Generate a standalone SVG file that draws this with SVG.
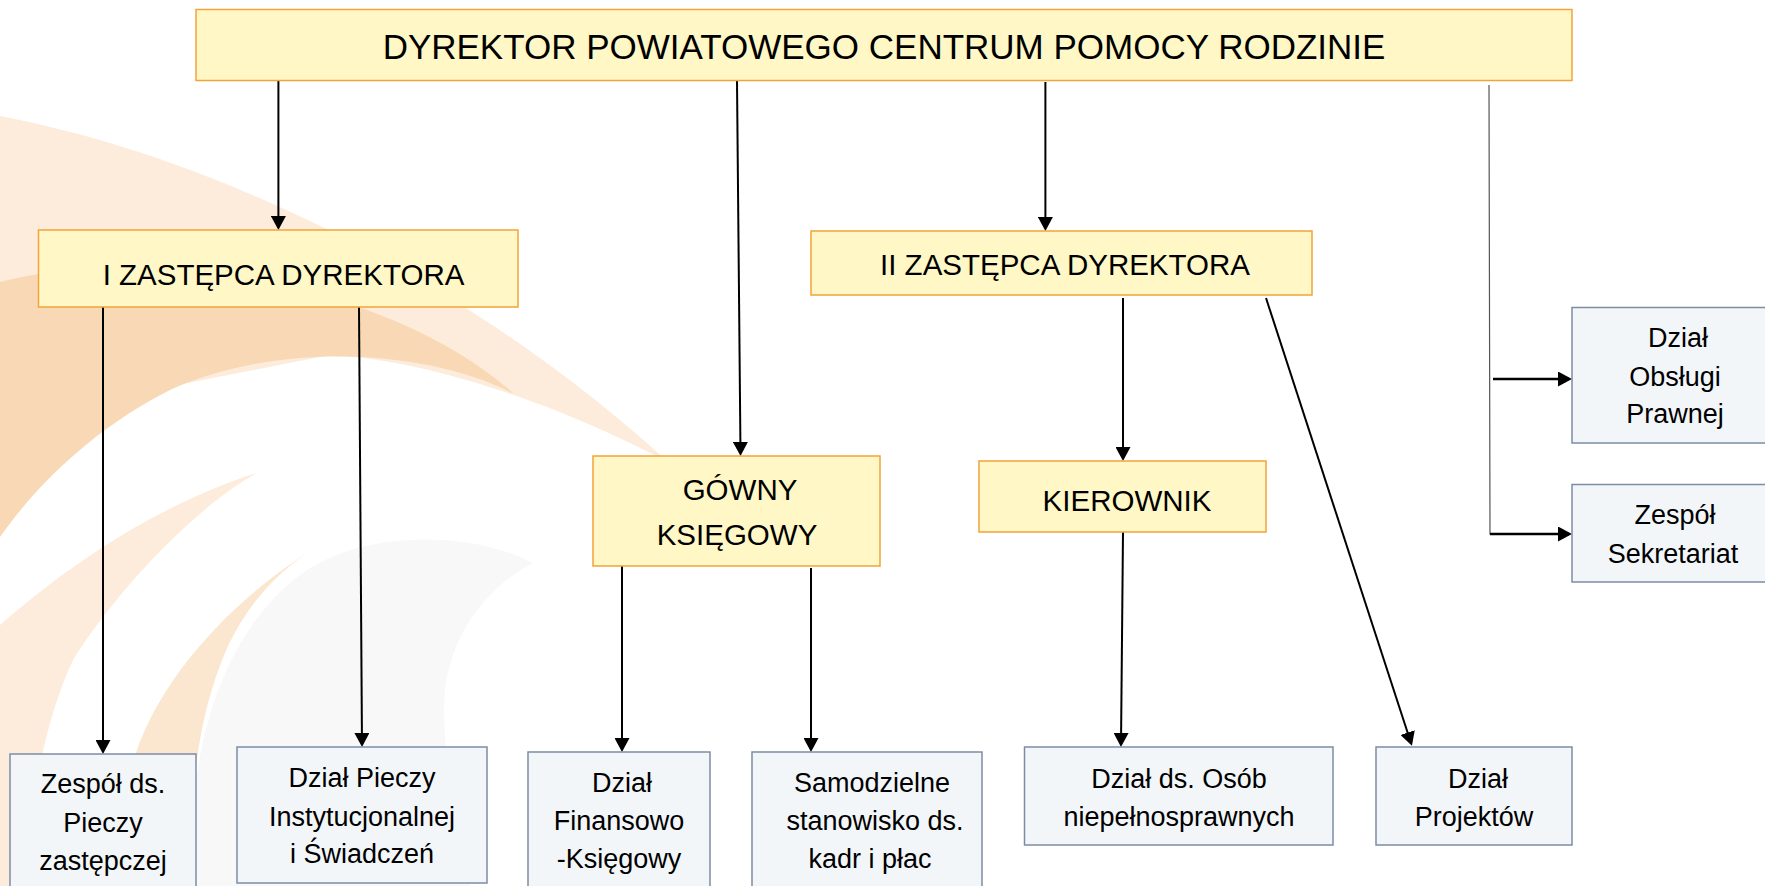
<svg xmlns="http://www.w3.org/2000/svg" width="1765" height="886" viewBox="0 0 1765 886">
<defs>
<style>
.y{fill:#fff8c6;stroke:#f2a33a;stroke-width:1.5}
.b{fill:#f3f6f9;stroke:#7d8ca6;stroke-width:1.5}
text{font-family:"Liberation Sans",Arial,sans-serif;fill:#000;text-anchor:middle}
.t1{font-size:35px}
.t2{font-size:29.5px}
.t3{font-size:27px}
.c{stroke:#000;stroke-width:2;fill:none}
.cw{stroke:#000;stroke-width:2.6;fill:none}
.thin{stroke:#555;stroke-width:1.2;fill:none}
</style>
<marker id="ah" viewBox="0 0 14 15" markerWidth="14" markerHeight="15" refX="11" refY="7.5" orient="auto" markerUnits="userSpaceOnUse">
<path d="M0,0 L14,7.5 L0,15 Z" fill="#000"/>
</marker>
</defs>
<rect width="1765" height="886" fill="#fff"/>
<g id="background">
<path d="M0,116 C230,160 480,290 668,462 C560,405 430,360 330,355 L0,420 Z" fill="#fdecdb"/>
<path d="M0,282 C160,240 400,290 514,394 C430,350 280,340 170,390 C100,425 40,480 0,537 Z" fill="#f9d9b5"/>
<path d="M0,625 C80,555 170,500 257,473 C190,510 110,600 73,660 C45,720 30,800 25,886 L0,886 Z" fill="#fdecdb"/>
<path d="M533,563 C470,530 360,530 300,575 C240,620 205,700 195,790 L190,886 L470,886 C455,820 440,740 445,690 C452,630 490,585 533,563 Z" fill="#f8f8f8"/>
<path d="M315,548 C230,600 160,680 136,753 C125,800 115,850 110,886 L190,886 C190,800 195,720 228,646 C250,600 280,570 315,548 Z" fill="#fbe6cf"/>
</g>
<g id="connectors">
<line class="c" x1="278.4" y1="81" x2="278.4" y2="227" marker-end="url(#ah)"/>
<line class="c" x1="737" y1="81" x2="740.5" y2="453" marker-end="url(#ah)"/>
<line class="c" x1="1045.4" y1="82" x2="1045.4" y2="228" marker-end="url(#ah)"/>
<polyline class="thin" points="1489,85 1490,534 1500,534"/>
<line class="cw" x1="1490" y1="534" x2="1569" y2="534" marker-end="url(#ah)"/>
<line class="cw" x1="1493" y1="379" x2="1569" y2="379" marker-end="url(#ah)"/>
<line class="c" x1="103" y1="307" x2="103" y2="751" marker-end="url(#ah)"/>
<line class="c" x1="359" y1="307" x2="362" y2="744" marker-end="url(#ah)"/>
<line class="c" x1="622" y1="566" x2="622" y2="749" marker-end="url(#ah)"/>
<line class="c" x1="811" y1="568" x2="811" y2="749" marker-end="url(#ah)"/>
<line class="c" x1="1123" y1="298" x2="1123" y2="458" marker-end="url(#ah)"/>
<line class="c" x1="1123" y1="532" x2="1121" y2="744" marker-end="url(#ah)"/>
<line class="c" x1="1266" y1="298" x2="1411" y2="743" marker-end="url(#ah)"/>
</g>
<g id="dyrektor">
<rect class="y" x="196" y="9.5" width="1376" height="71"/>
<text class="t1" x="884" y="59">DYREKTOR POWIATOWEGO CENTRUM POMOCY RODZINIE</text>
</g>
<g id="zastepca1">
<rect class="y" x="38.5" y="230" width="479.5" height="77"/>
<text class="t2" x="283.5" y="285">I ZASTĘPCA DYREKTORA</text>
</g>
<g id="zastepca2">
<rect class="y" x="811" y="231" width="501" height="64"/>
<text class="t2" x="1065" y="275">II ZASTĘPCA DYREKTORA</text>
</g>
<g id="ksiegowy">
<rect class="y" x="593" y="456" width="287" height="110"/>
<text class="t2" x="740" y="500">GÓWNY</text>
<text class="t2" x="737" y="545">KSIĘGOWY</text>
</g>
<g id="kierownik">
<rect class="y" x="979" y="461" width="287" height="71"/>
<text class="t2" x="1127" y="511">KIEROWNIK</text>
</g>
<g id="zespol-pieczy">
<rect class="b" x="10" y="754" width="186" height="140"/>
<text class="t3" x="103" y="793">Zespół ds.</text>
<text class="t3" x="103" y="832">Pieczy</text>
<text class="t3" x="103" y="870">zastępczej</text>
</g>
<g id="dzial-pieczy">
<rect class="b" x="237" y="747" width="250" height="136"/>
<text class="t3" x="362" y="787">Dział Pieczy</text>
<text class="t3" x="362" y="826">Instytucjonalnej</text>
<text class="t3" x="362" y="863">i Świadczeń</text>
</g>
<g id="dzial-finansowo">
<rect class="b" x="528" y="752" width="182" height="140"/>
<text class="t3" x="622" y="792">Dział</text>
<text class="t3" x="619" y="830">Finansowo</text>
<text class="t3" x="619" y="868">-Księgowy</text>
</g>
<g id="kadry">
<rect class="b" x="752" y="752" width="230" height="140"/>
<text class="t3" x="872" y="792">Samodzielne</text>
<text class="t3" x="875" y="830">stanowisko ds.</text>
<text class="t3" x="870" y="868">kadr i płac</text>
</g>
<g id="dzial-osob">
<rect class="b" x="1024.5" y="747" width="308.5" height="98"/>
<text class="t3" x="1179" y="788">Dział ds. Osób</text>
<text class="t3" x="1179" y="826">niepełnosprawnych</text>
</g>
<g id="dzial-projektow">
<rect class="b" x="1376" y="747" width="196" height="98"/>
<text class="t3" x="1478" y="788">Dział</text>
<text class="t3" x="1474" y="826">Projektów</text>
</g>
<g id="dzial-prawny">
<rect class="b" x="1572" y="307.5" width="200" height="135.5"/>
<text class="t3" x="1678" y="347">Dział</text>
<text class="t3" x="1675" y="386">Obsługi</text>
<text class="t3" x="1675" y="423">Prawnej</text>
</g>
<g id="sekretariat">
<rect class="b" x="1572" y="484.5" width="200" height="97.5"/>
<text class="t3" x="1675" y="524">Zespół</text>
<text class="t3" x="1673" y="563">Sekretariat</text>
</g>
</svg>
